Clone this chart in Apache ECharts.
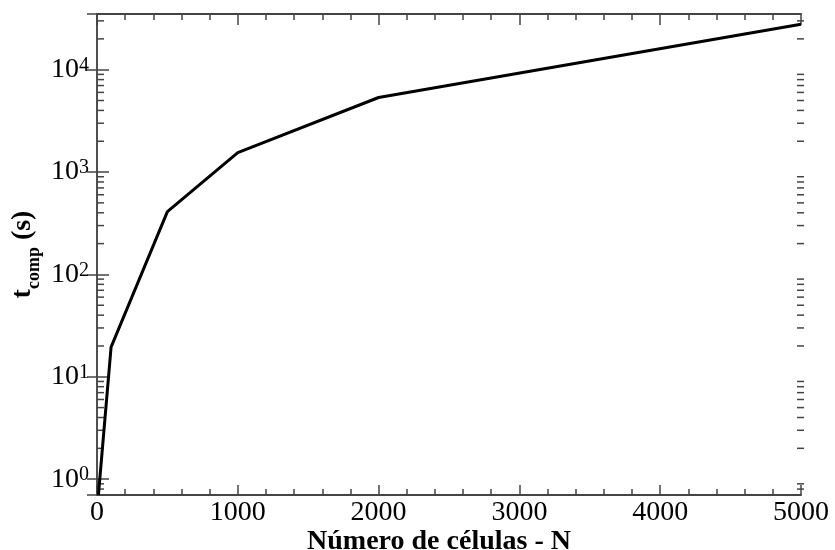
<!DOCTYPE html>
<html>
<head>
<meta charset="utf-8">
<script src="https://cdn.jsdelivr.net/npm/echarts@6/dist/echarts.min.js"></script>
<style>
html,body{margin:0;padding:0;background:#fff;}
#chart{width:835px;height:550px;}
</style>
</head>
<body>
<div id="chart"></div>
<script>
// Data
const cells = [10, 100, 500, 1000, 2000, 5000];
const tcomp = [0.7, 19.5, 410, 1550, 5350, 27800];
const xTicks = [0, 1000, 2000, 3000, 4000, 5000];
const yMinorTickValues = [0.8, 0.9,
  2, 3, 4, 5, 6, 7, 8, 9,
  20, 30, 40, 50, 60, 70, 80, 90,
  200, 300, 400, 500, 600, 700, 800, 900,
  2000, 3000, 4000, 5000, 6000, 7000, 8000, 9000,
  20000, 30000];
const xTitle = 'Número de células - N';

const FONT = 'Liberation Serif';
const AX = '#444';

const lineData = cells.map((c, i) => [c, tcomp[i]]);

function powLabel(v) {
  const n = Math.round(Math.log10(v));
  const p = Math.pow(10, n);
  if (Math.abs(v - p) / p > 1e-6) return '';
  return '{b|10}{s|' + n + '}';
}

const chart = echarts.init(document.getElementById('chart'), null, {renderer: 'canvas'});
const xCommon = {
  type: 'value', min: xTicks[0], max: xTicks[xTicks.length - 1], interval: 1000,
  axisLine: {show: true, lineStyle: {color: AX, width: 2}},
  splitLine: {show: false},
  minorTick: {show: true, splitNumber: 5, length: 6, lineStyle: {color: AX, width: 1.5}}
};
const yCommon = {
  type: 'log', logBase: 10, min: 0.7, max: 35000,
  axisLine: {show: true, lineStyle: {color: AX, width: 1.5}},
  splitLine: {show: false}
};
chart.setOption({
  backgroundColor: '#fff',
  animation: false,
  grid: {left: 97, right: 34, top: 14, bottom: 55, containLabel: false, outerBoundsMode: 'none'},
  xAxis: [
    Object.assign({}, xCommon, {
      position: 'bottom',
      name: xTitle, nameLocation: 'middle', nameGap: 33, nameMoveOverlap: false,
      nameTextStyle: {fontFamily: FONT, fontSize: 28, fontWeight: 'bold', color: '#000', lineHeight: 28, padding: [0, 20, 0, 0]},
      axisTick: {show: true, inside: true, length: 10, lineStyle: {color: AX, width: 1.5}},
      axisLabel: {show: true, margin: 4, fontFamily: FONT, fontSize: 28, lineHeight: 28, color: '#000',
        formatter: function (v) { return String(Math.round(v)); }}
    }),
    Object.assign({}, xCommon, {
      position: 'top',
      axisTick: {show: true, inside: true, length: 11, lineStyle: {color: AX, width: 1.5}},
      axisLabel: {show: false}
    })
  ],
  yAxis: [
    Object.assign({}, yCommon, {
      position: 'left',
      name: '{t|t}{c|comp}{t| (s)}', nameLocation: 'middle', nameRotate: 90, nameGap: 54, nameMoveOverlap: false,
      nameTextStyle: {
        rich: {
          t: {fontFamily: FONT, fontSize: 28, fontWeight: 'bold', color: '#000', lineHeight: 28, verticalAlign: 'bottom', padding: [0, 0, 6, 0]},
          c: {fontFamily: FONT, fontSize: 18, fontWeight: 'bold', color: '#000', lineHeight: 18, verticalAlign: 'bottom'}
        }
      },
      axisTick: {show: true, inside: true, length: 12, lineStyle: {color: AX, width: 1.5}},
      axisLabel: {
        show: true, margin: 8, showMinLabel: false, showMaxLabel: false,
        formatter: powLabel,
        rich: {
          b: {fontFamily: FONT, fontSize: 28, lineHeight: 28, color: '#000', verticalAlign: 'bottom', padding: [2, 0, 0, 0]},
          s: {fontFamily: FONT, fontSize: 20, lineHeight: 20, color: '#000', verticalAlign: 'top'}
        }
      }
    }),
    Object.assign({}, yCommon, {
      position: 'right',
      axisTick: {show: true, inside: true, length: 10, lineStyle: {color: AX, width: 1.5}},
      axisLabel: {show: false}
    })
  ],
  series: [
    {
      type: 'line', xAxisIndex: 0, yAxisIndex: 0,
      data: lineData, showSymbol: false, symbol: 'none', clip: true,
      lineStyle: {color: '#000', width: 3}
    },
    {
      type: 'custom', xAxisIndex: 0, yAxisIndex: 0, silent: true,
      data: yMinorTickValues.map(v => [xTicks[0], v]),
      renderItem: function (params, api) {
        const v = api.value(1);
        const pL = api.coord([xTicks[0], v]);
        const pR = api.coord([xTicks[xTicks.length - 1], v]);
        return {
          type: 'group',
          children: [
            {type: 'line', shape: {x1: pL[0], y1: pL[1], x2: pL[0] + 7, y2: pL[1]}, style: {stroke: AX, lineWidth: 1.5}},
            {type: 'line', shape: {x1: pR[0] - 4, y1: pR[1], x2: pR[0] + 3, y2: pR[1]}, style: {stroke: AX, lineWidth: 1.5}}
          ]
        };
      }
    }
  ]
});
</script>
</body>
</html>
